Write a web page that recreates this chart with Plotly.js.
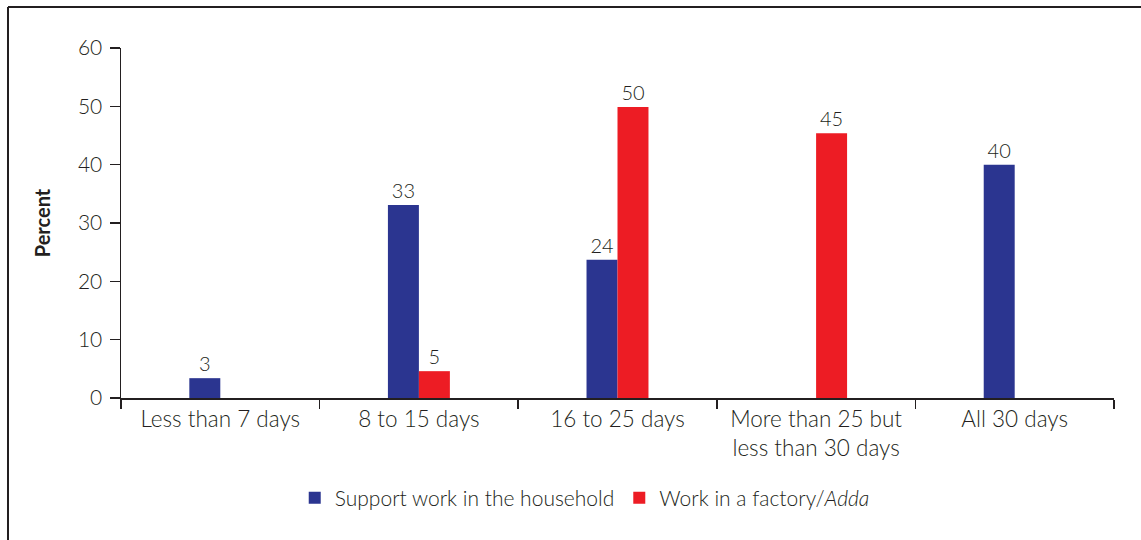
<!DOCTYPE html>
<html><head><meta charset="utf-8">
<script src="https://cdn.plot.ly/plotly-3.0.1.min.js"></script>
<style>html,body{margin:0;padding:0;background:#fff}</style>
</head><body>
<div id="chart" style="width:1141px;height:540px"></div>
<script>
const categories = ["Less than 7 days", "8 to 15 days", "16 to 25 days", "More than 25 but<br>less than 30 days", "All 30 days"];
const householdValues = [3.4, 33.1, 23.7, 0, 40];
const factoryValues = [0, 4.6, 49.9, 45.4, 0];
const seriesNames = ["Support work in the household", "Work in a factory/<i>Adda</i>"];
const yTicks = [0, 10, 20, 30, 40, 50, 60];

const lbl = v => v > 0 ? String(Math.round(v)) : "";
const fontFam = "Lato, 'Open Sans', sans-serif";
const txtCol = "#231f20";

const traces = [
  {type: "bar", name: seriesNames[0], x: categories, y: householdValues,
   marker: {color: "#2b3590"}, text: householdValues.map(lbl), textposition: "outside",
   textfont: {size: 20, color: txtCol, family: fontFam, weight: 300}, cliponaxis: false, hoverinfo: "none"},
  {type: "bar", name: seriesNames[1], x: categories, y: factoryValues,
   marker: {color: "#ed1c24"}, text: factoryValues.map(lbl), textposition: "outside",
   textfont: {size: 20, color: txtCol, family: fontFam, weight: 300}, cliponaxis: false, hoverinfo: "none"}
];

const layout = {
  width: 1141, height: 540,
  margin: {l: 121, r: 27, t: 48, b: 142},
  paper_bgcolor: "#fff", plot_bgcolor: "#fff",
  font: {family: fontFam, color: txtCol, size: 20, weight: 300},
  barmode: "group", bargap: 0.688, bargroupgap: 0,
  showlegend: true,
  legend: {orientation: "h", x: 0.467, xanchor: "center", y: -0.286, yanchor: "middle",
           font: {size: 21, color: txtCol, family: fontFam, weight: 300}, itemwidth: 30, traceorder: "normal"},
  xaxis: {type: "category", showline: true, linecolor: "#231f20", linewidth: 1.5,
          ticks: "outside", tickson: "boundaries", ticklen: 9, tickcolor: "#231f20", tickwidth: 1.5,
          tickfont: {size: 22.5, color: txtCol, family: fontFam, weight: 300}, showgrid: false, zeroline: false, automargin: false},
  yaxis: {range: [0, 60], tickvals: yTicks, showline: true, linecolor: "#231f20", linewidth: 1.5,
          ticks: "outside", ticklen: 10, tickcolor: "#231f20", tickwidth: 1.5, showgrid: false, zeroline: false,
          ticklabelstandoff: 3,
          tickfont: {size: 21, color: txtCol, family: fontFam, weight: 300},
          title: {text: "<b>Percent</b>", font: {size: 20, color: txtCol, family: fontFam, weight: 400}, standoff: 22}, automargin: false},
  shapes: [
    {type: "line", xref: "paper", yref: "paper", x0: -0.1138, x1: -0.1138, y0: -0.6, y1: 1.1171,
     line: {color: "#231f20", width: 2}},
    {type: "line", xref: "paper", yref: "paper", x0: -0.1138, x1: 1.1, y0: 1.1171, y1: 1.1171,
     line: {color: "#231f20", width: 2}}
  ]
};

Plotly.newPlot("chart", traces, layout, {displayModeBar: false, staticPlot: true});
</script>
</body></html>
